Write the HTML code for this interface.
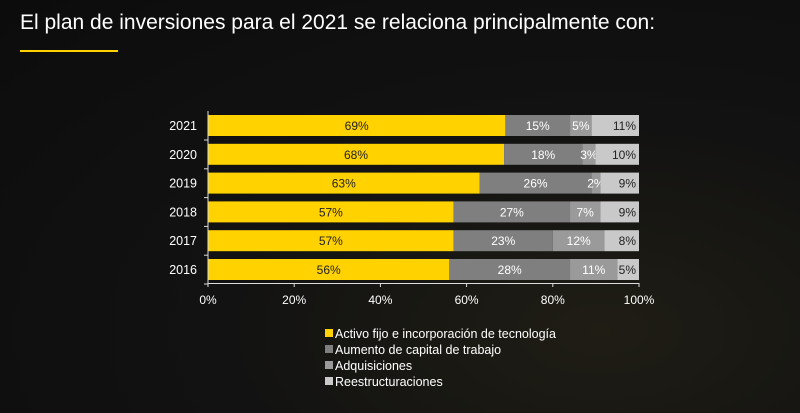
<!DOCTYPE html>
<html><head><meta charset="utf-8"><style>
body{margin:0;background:#111;}
#root{position:relative;width:800px;height:413px;overflow:hidden;background:radial-gradient(ellipse at 75% 80%,#1f1d14 0%,#121212 45%,#0c0c0c 100%);font-family:"Liberation Sans",sans-serif;}
#title{position:absolute;left:20px;top:11px;color:#fff;font-size:21px;white-space:nowrap;}
#uline{position:absolute;left:20px;top:50px;width:98px;height:2px;background:#ffd200;}
svg{position:absolute;left:0;top:0;}
</style></head><body>
<div id="root">
<div id="title">El plan de inversiones para el 2021 se relaciona principalmente con:</div>
<div id="uline"></div>
<svg id="chart" width="800" height="413"></svg>
</div>
<script>
const years=["2021","2020","2019","2018","2017","2016"];
const activo=[69,68,63,57,57,56];
const aumento=[15,18,26,27,23,28];
const adquis=[5,3,2,7,12,11];
const reestr=[11,10,9,9,8,5];
const ticks=[0,20,40,60,80,100];
const seriesNames=["Activo fijo e incorporación de tecnología","Aumento de capital de trabajo","Adquisiciones","Reestructuraciones"];
const colors=["#ffd200","#7f7f7f","#9a9a9a","#c9c9c9"];
const textCols=["#222","#fff","#fff","#222"];
const NS="http://www.w3.org/2000/svg";
const svg=document.getElementById('chart');
const x0=208,x1=639;
const xs=v=>x0+(x1-x0)*v/100;
const ys=i=>115+i*28.8;
const bh=21;
function el(t,a){const e=document.createElementNS(NS,t);for(const k in a)e.setAttribute(k,a[k]);svg.appendChild(e);return e;}
const all=[activo,aumento,adquis,reestr];
years.forEach((y,i)=>{
  let cum=0;
  const tot=all.reduce((s,a)=>s+a[i],0);
  all.forEach((s,j)=>{
    const v=s[i];
    const a=cum*100/tot,b=(cum+v)*100/tot;
    const r=el('rect',{x:xs(a),y:ys(i),width:xs(b)-xs(a),height:bh,fill:colors[j]});
    
    
    const t=el('text',{x:j==3?xs(b)-3:(xs(a)+xs(b))/2,y:ys(i)+15,'text-anchor':j==3?'end':'middle','font-size':12,fill:textCols[j]});
    t.textContent=v+'%';
    
    
    cum+=v;
  });
  const yl=el('text',{x:197,y:ys(i)+15,'text-anchor':'end','font-size':12.5,fill:'#fff'});
  yl.textContent=y;
  
  
  const tk=el('line',{x1:204,x2:208,y1:ys(i)+bh+4,y2:ys(i)+bh+4,stroke:'#ddd'});
  
  
});
const ya=el('line',{x1:x0,x2:x0,y1:111,y2:284,stroke:'#ddd'});


const xa=el('line',{x1:x0,x2:x1,y1:283.5,y2:283.5,stroke:'#ddd'});


ticks.forEach(v=>{
  const l=el('line',{x1:xs(v),x2:xs(v),y1:283,y2:287,stroke:'#ddd'});
  
  
  const t=el('text',{x:xs(v),y:304,'text-anchor':'middle','font-size':12,fill:'#fff'});
  t.textContent=v+'%';
  
  
});
seriesNames.forEach((n,j)=>{
  const yy=327+j*16;
  const r=el('rect',{x:325,y:yy+2,width:8,height:8,fill:colors[j]});
  
  
  const t=el('text',{x:335,y:yy+11,'font-size':12.5,fill:'#fff'});
  t.textContent=n;
  
  
});
</script>
</body></html>
